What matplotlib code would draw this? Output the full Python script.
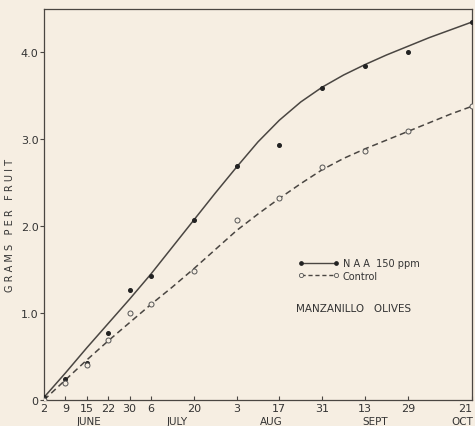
import matplotlib
matplotlib.use("Agg")
import matplotlib.pyplot as plt
from matplotlib.lines import Line2D

# sampling dates, placed on the chart's own (roughly weekly) scale
date_pos = [0, 1, 2, 3, 4, 5, 7, 9, 11, 13, 15, 17, 20]
date_labels = ["2", "9", "15", "22", "30", "6", "20", "3", "17", "31", "13", "29", "21"]
months = ["JUNE", "JULY", "AUG", "SEPT", "OCT"]
month_pos = [2.1, 6.2, 10.6, 15.5, 19.55]

naa_pts = [0.03, 0.24, 0.43, 0.77, 1.27, 1.43, 2.07, 2.69, 2.94, 3.59, 3.84, 4.00, 4.35]
control_pts = [0.00, 0.20, 0.40, 0.69, 1.00, 1.11, 1.48, 2.07, 2.32, 2.68, 2.86, 3.09, 3.38]

curve_x = list(range(21))
naa_curve = [0.03, 0.31, 0.60, 0.88, 1.16, 1.45, 1.76, 2.07, 2.38, 2.68, 2.97, 3.22,
             3.43, 3.60, 3.74, 3.86, 3.97, 4.07, 4.17, 4.26, 4.35]
control_curve = [0.00, 0.23, 0.46, 0.68, 0.89, 1.10, 1.30, 1.51, 1.73, 1.95, 2.14, 2.32,
                 2.49, 2.65, 2.78, 2.89, 2.99, 3.09, 3.19, 3.29, 3.38]

bg = "#f6eee2"
ink = "#4a4642"

fig = plt.figure(figsize=(4.75, 4.27), dpi=100, facecolor=bg)
ax = fig.add_axes([0.0926, 0.061, 0.901, 0.9156], facecolor=bg)

ax.plot(curve_x, naa_curve, color=ink, lw=1.1)
ax.plot(curve_x, control_curve, color=ink, lw=1.1, ls=(0, (4, 2.5)))
ax.plot(date_pos, naa_pts, "o", color="#222", ms=2.6, zorder=3)
ax.plot(date_pos, control_pts, "o", mfc=bg, mec="#555", mew=0.7, ms=3.6, zorder=3)

ax.set_xlim(0, 20)
ax.set_ylim(0, 4.5)
ax.set_xticks(date_pos)
ax.set_xticklabels(date_labels, fontsize=8, color="#333")
ax.get_xticklabels()[-1].set_ha("right")
ax.set_yticks([0, 1, 2, 3, 4])
ax.set_yticklabels(["0", "1.0", "2.0", "3.0", "4.0"], fontsize=8, color="#333")
ax.tick_params(axis="x", direction="in", length=3, width=0.8, color=ink, pad=2)
ax.tick_params(axis="y", direction="out", length=3, width=0.8, color=ink, pad=1)
for s in ax.spines.values():
    s.set_color(ink)
    s.set_linewidth(0.9)

for m, p in zip(months, month_pos):
    ax.text(p, -0.245, m, ha="center", va="center", fontsize=7.5, color="#333",
            clip_on=False)

ax.set_ylabel("G R A M S   P E R   F R U I T", fontsize=7, color="#333")
ax.yaxis.set_label_coords(-0.068, 0.45)

# legend drawn like the original: markers at both ends of the sample line
h1 = Line2D([], [], color=ink, lw=1.0, marker="o", ms=2.4, mfc="#222", mec="#222")
h2 = Line2D([], [], color=ink, lw=1.0, ls=(0, (3, 2)), marker="o", ms=3.0, mfc=bg, mec="#555", mew=0.6)
leg = ax.legend([h1, h2], ["N A A  150 ppm", "Control"], numpoints=2, frameon=False,
                loc="upper left", bbox_to_anchor=(0.585, 0.372), fontsize=7,
                handlelength=4.2, handletextpad=0.4, labelspacing=0.25, borderaxespad=0)
for t in leg.get_texts():
    t.set_color("#333")

ax.text(0.59, 0.236, "MANZANILLO   OLIVES", transform=ax.transAxes, fontsize=7.5,
        color="#333", va="center")

fig.savefig("out.png", dpi=100, facecolor=bg)
